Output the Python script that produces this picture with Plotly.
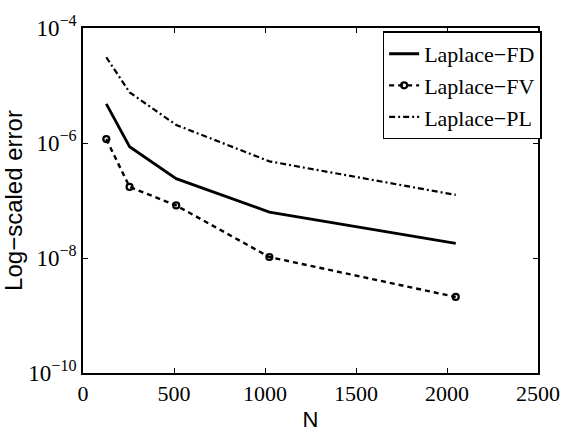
import plotly.graph_objects as go

# Grid sizes and measured errors for each discretisation
N = [128, 256, 512, 1024, 2048]
err_fd = [4.8e-6, 8.6e-7, 2.4e-7, 6.3e-8, 1.8e-8]
err_fv = [1.17e-6, 1.72e-7, 8.2e-8, 1.04e-8, 2.1e-9]
err_pl = [3.1e-5, 7.6e-6, 2.06e-6, 4.8e-7, 1.25e-7]

series_names = ["Laplace\u2212FD", "Laplace\u2212FV", "Laplace\u2212PL"]

y_tickvals = [1e-10, 1e-8, 1e-6, 1e-4]
y_ticktext = ["10<sup>\u221210</sup>", "10<sup>\u22128</sup>", "10<sup>\u22126</sup>", "10<sup>\u22124</sup>"]
x_tickvals = [0, 500, 1000, 1500, 2000, 2500]

serif = "Liberation Serif"
sans = "Liberation Sans"

fig = go.Figure()
fig.add_trace(go.Scatter(
    x=N, y=err_fd, name=series_names[0], mode="lines",
    line=dict(color="black", width=2.8),
))
fig.add_trace(go.Scatter(
    x=N, y=err_fv, name=series_names[1], mode="lines+markers",
    line=dict(color="black", width=2.4, dash="5px,4px"),
    marker=dict(symbol="circle-open", size=6, color="black", line=dict(width=2.2, color="black")),
))
fig.add_trace(go.Scatter(
    x=N, y=err_pl, name=series_names[2], mode="lines",
    line=dict(color="black", width=2.2, dash="6px,3px,2px,3px"),
))

fig.update_layout(
    width=572, height=440,
    margin=dict(l=82, r=22, t=24, b=63),
    paper_bgcolor="white", plot_bgcolor="white",
    showlegend=True,
    legend=dict(
        x=1.008, y=0.99, xanchor="right", yanchor="top",
        bgcolor="white", bordercolor="black", borderwidth=1.5,
        font=dict(family=serif, size=22, color="black"),
        itemwidth=30, tracegroupgap=0,
    ),
    font=dict(family=serif, color="black"),
)

fig.update_xaxes(
    range=[0, 2500], tickvals=x_tickvals,
    ticks="inside", ticklen=5, tickwidth=1, tickcolor="black",
    showline=True, linecolor="black", linewidth=1.8, mirror="ticks",
    showgrid=False, zeroline=False,
    tickfont=dict(family=serif, size=22, color="black"),
    title=dict(text="N", font=dict(family=sans, size=22, color="black"), standoff=6),
)
fig.update_yaxes(
    type="log", range=[-10, -4],
    tickvals=y_tickvals, ticktext=y_ticktext,
    ticks="inside", ticklen=5, tickwidth=1, tickcolor="black",
    showline=True, linecolor="black", linewidth=1.8, mirror="ticks",
    showgrid=False, zeroline=False,
    tickfont=dict(family=serif, size=23, color="black"),
    title=dict(text="Log\u2212scaled error", font=dict(family=sans, size=24, color="black"), standoff=0),
)

fig.write_html("out.html")
